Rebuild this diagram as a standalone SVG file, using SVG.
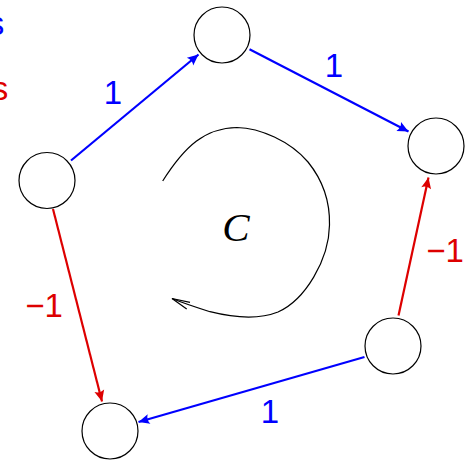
<svg xmlns="http://www.w3.org/2000/svg" width="470" height="462" viewBox="0 0 470 462">
  <style>
    .node { fill: #ffffff; stroke: #000000; stroke-width: 1.2; }
    .edge { fill: none; stroke-width: 2.2; }
    .blue { stroke: #0000ff; }
    .red { stroke: #dd0000; }
    .lbl { font-family: "Liberation Sans", Arial, sans-serif; font-size: 33px; text-anchor: middle; }
    .lb { fill: #0000ff; }
    .lr { fill: #dd0000; }
    .cyc { fill: none; stroke: #000000; stroke-width: 1.2; }
  </style>
  <defs>
    <marker id="ab" markerUnits="userSpaceOnUse" markerWidth="14" markerHeight="12" refX="12" refY="6" orient="auto">
      <path d="M12,6 L1,1 Q4,6 1,11 Z" fill="#0000ff"/>
    </marker>
    <marker id="ar" markerUnits="userSpaceOnUse" markerWidth="14" markerHeight="12" refX="12" refY="6" orient="auto">
      <path d="M12,6 L1,1 Q4,6 1,11 Z" fill="#dd0000"/>
    </marker>
  </defs>

  <text class="lbl lb" x="-4" y="35">s</text>
  <text class="lbl lr" x="0" y="100">s</text>

  <g id="connectors">
    <line class="edge blue" x1="71" y1="160.5" x2="198.5" y2="54.5" marker-end="url(#ab)"/>
    <line class="edge blue" x1="249.5" y1="49.3" x2="408.5" y2="131.5" marker-end="url(#ab)"/>
    <line class="edge red" x1="398.5" y1="315.5" x2="428.5" y2="177.5" marker-end="url(#ar)"/>
    <line class="edge red" x1="53" y1="209" x2="102" y2="401.5" marker-end="url(#ar)"/>
    <line class="edge blue" x1="364.5" y1="357" x2="138.5" y2="422" marker-end="url(#ab)"/>
  </g>

  <g id="labels">
    <text class="lbl lb" x="113" y="104">1</text>
    <text class="lbl lb" x="334" y="77">1</text>
    <text class="lbl lr" x="445" y="262">−1</text>
    <text class="lbl lr" x="44" y="317">−1</text>
    <text class="lbl lb" x="270" y="423">1</text>
  </g>

  <g id="node-a"><circle class="node" cx="47" cy="180.5" r="28"/></g>
  <g id="node-b"><circle class="node" cx="222" cy="35" r="28"/></g>
  <g id="node-c"><circle class="node" cx="436" cy="146" r="28"/></g>
  <g id="node-d"><circle class="node" cx="393" cy="346" r="28"/></g>
  <g id="node-e"><circle class="node" cx="110" cy="431" r="28"/></g>

  <g id="cycle">
    <path class="cyc" d="M162.7,181 C185,146 205,128 237,127.5 C260,128 290,141 308,162 C325,183 330,205 329.5,225 C329,260 305,300 278,312 C258,320 235,318 210,311.7 C195,307 183,303 172,298.5"/>
    <path class="cyc" d="M190,302.3 L172,298.5 L186.7,309"/>
    <text x="236" y="241" font-family="'Liberation Serif', 'Times New Roman', serif" font-style="italic" font-size="41" text-anchor="middle">C</text>
  </g>
</svg>
